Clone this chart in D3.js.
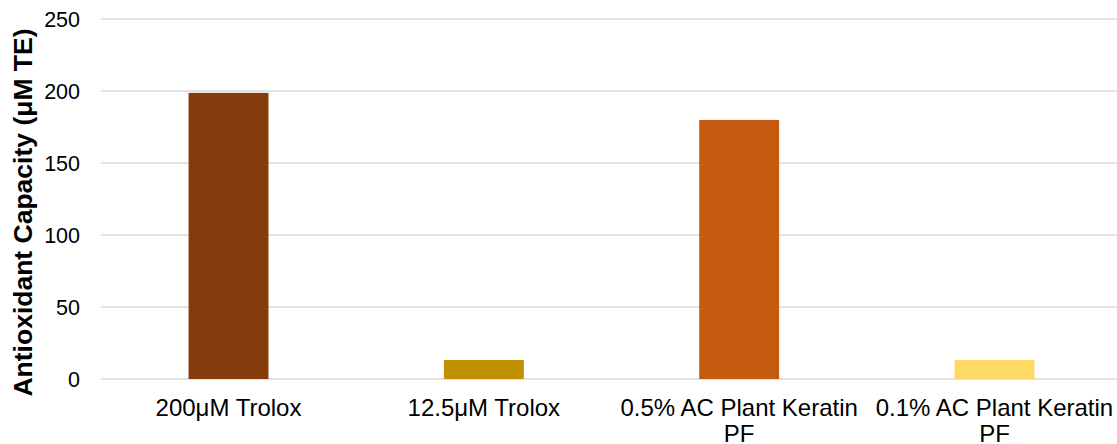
<!DOCTYPE html>
<html><head><meta charset="utf-8">
<script src="https://cdn.jsdelivr.net/npm/d3@7"></script>
<style>body{margin:0;background:#fff}</style>
</head><body>
<svg id="chart" width="1117" height="444"></svg>
<script>
const categories = [["200μM Trolox"], ["12.5μM Trolox"], ["0.5% AC Plant Keratin", "PF"], ["0.1% AC Plant Keratin", "PF"]];
const values = [198.7, 13.2, 179.9, 13.2];
const colors = ["#843C0C", "#BF9000", "#C55A11", "#FFD966"];
const yTicks = [0, 50, 100, 150, 200, 250];
const yTitle = "Antioxidant Capacity (μM TE)";

(function () {
const svg = d3.select("#chart");
const mLeft = 101, mRight = 1122, mTop = 19, mBottom = 379;
const x = d3.scaleBand().domain(d3.range(categories.length)).range([mLeft, mRight]).paddingInner(0.687).paddingOuter(0.343);
const y = d3.scaleLinear().domain([0, 250]).range([mBottom, mTop]);

const grid = svg.append("g");
grid.selectAll("line").data(yTicks).join("line")
  .attr("x1", mLeft).attr("x2", 1117)
  .attr("y1", d => y(d)).attr("y2", d => y(d))
  .attr("stroke", "#D9D9D9").attr("stroke-width", 1.5);

svg.append("g").selectAll("text").data(yTicks).join("text")
  .attr("x", 80).attr("y", d => y(d)).attr("dy", "0.35em")
  .attr("text-anchor", "end")
  .attr("font-family", "Liberation Sans, Arial, sans-serif").attr("font-size", 21.5)
  .attr("fill", "#000").text(d => d);

svg.append("g").selectAll("rect").data(values).join("rect")
  .attr("x", (d, i) => x(i)).attr("width", x.bandwidth())
  .attr("y", d => y(d)).attr("height", d => y(0) - y(d))
  .attr("fill", (d, i) => colors[i]);

const lbl = svg.append("g").selectAll("text").data(categories).join("text")
  .attr("x", (d, i) => x(i) + x.bandwidth() / 2)
  .attr("y", 416)
  .attr("text-anchor", "middle")
  .attr("font-family", "Liberation Sans, Arial, sans-serif").attr("font-size", 24)
  .attr("fill", "#000");
lbl.selectAll("tspan").data(d => d).join("tspan")
  .attr("x", function() { return this.parentNode.getAttribute("x"); })
  .attr("dy", (d, j) => j === 0 ? 0 : 26)
  .text(d => d);

svg.append("text")
  .attr("transform", `translate(32,212.5) rotate(-90)`)
  .attr("text-anchor", "middle")
  .attr("font-family", "Liberation Sans, Arial, sans-serif").attr("font-size", 26.5).attr("font-weight", "bold")
  .attr("fill", "#000").text(yTitle);
})();
</script>
</body></html>
